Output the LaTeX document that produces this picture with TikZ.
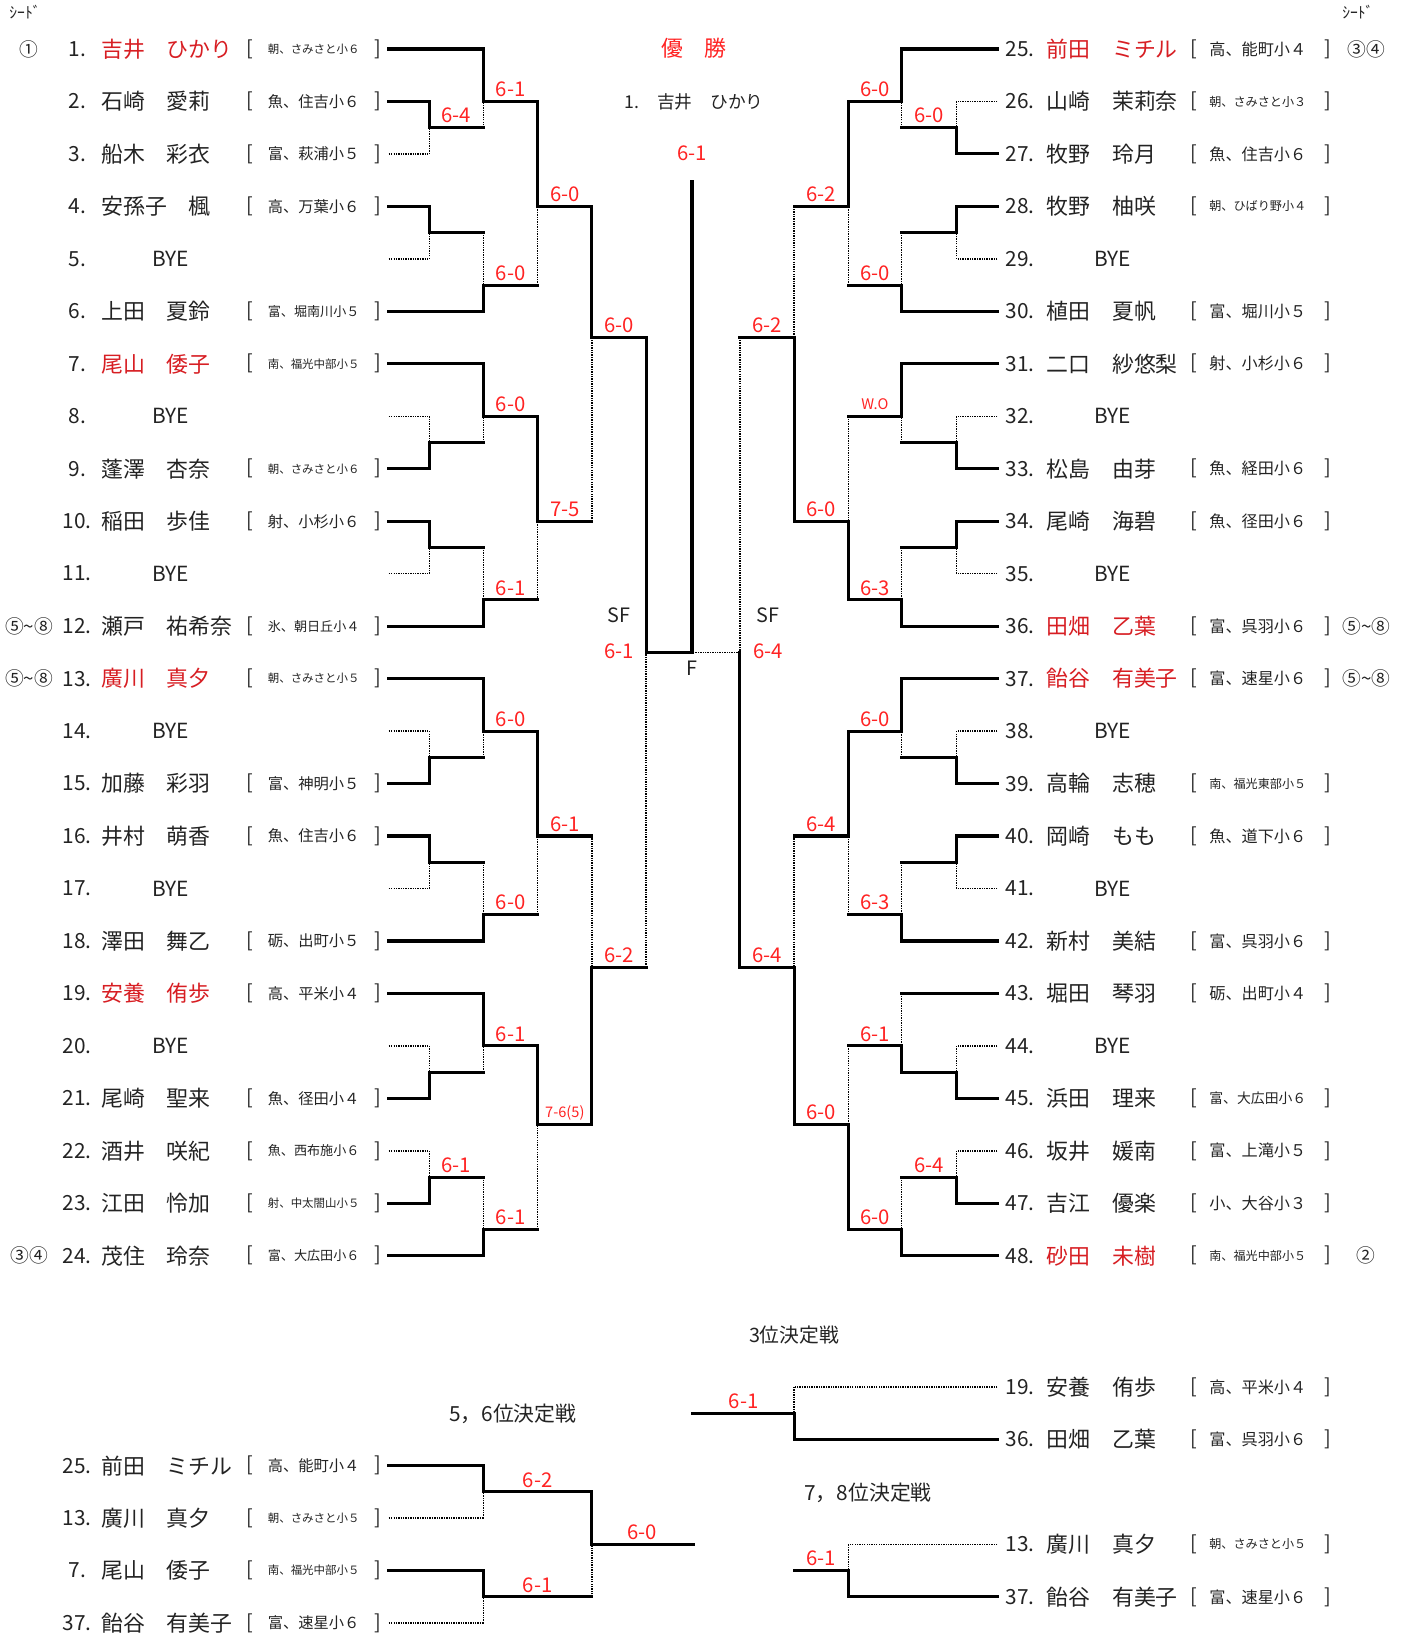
\documentclass[tikz,border=0pt]{standalone}
\usepackage{fontspec}
\setmainfont{Noto Sans CJK JP}
\definecolor{ink}{RGB}{35,35,35}
\definecolor{namered}{RGB}{215,30,35}
\definecolor{scorered}{RGB}{255,35,35}
\newcommand{\smallsc}{\fontsize{14}{16}\selectfont}
\newcommand{\affL}[1]{\resizebox{88pt}{!}{\fontsize{14}{16}\selectfont #1}}
\newcommand{\affR}[1]{\resizebox{93pt}{!}{\fontsize{14}{16}\selectfont #1}}
\tikzset{
  win/.style={line width=3pt, line cap=rect},
  lose/.style={line width=1.3pt, dash pattern=on 1.3pt off 1pt},
  num/.style={inner sep=0pt, text=ink, font=\fontsize{20}{22}\selectfont},
  player/.style={inner sep=0pt, font=\fontsize{21}{23}\selectfont},
  brk/.style={inner sep=0pt, text=ink, font=\fontsize{19}{21}\selectfont},
  aff/.style={inner sep=0pt, text=ink},
  score/.style={inner sep=0pt, text=scorered, font=\fontsize{19.5}{21}\selectfont},
  seed/.style={inner sep=0pt, text=ink, font=\fontsize{18}{20}\selectfont},
  heading/.style={inner sep=0pt, text=ink, font=\fontsize{19}{21}\selectfont}
}

\begin{document}
\begin{tikzpicture}[x=1pt,y=-50.35pt]
  \useasboundingbox (0,0.0665) rectangle (1345,31.208);
  \foreach \y/\xe/\st in {
    1/464/win, 2/412/win, 3/412/lose, 4/412/win, 5/412/lose, 6/464/win,
    7/464/win, 8/412/lose, 9/412/win, 10/412/win, 11/412/lose, 12/464/win,
    13/464/win, 14/412/lose, 15/412/win, 16/412/win, 17/412/lose, 18/464/win,
    19/464/win, 20/412/lose, 21/412/win, 22/412/lose, 23/412/win, 24/464/win,
    28/464/win, 29/464/lose, 30/464/win, 31/464/lose%
  }{
    \draw[\st] (373,\y) -- (\xe,\y);
  }
  \foreach \y/\xe/\st in {
    1/865/win, 2/918/lose, 3/918/win, 4/918/win, 5/918/lose, 6/865/win,
    7/865/win, 8/918/lose, 9/918/win, 10/918/win, 11/918/lose, 12/865/win,
    13/865/win, 14/918/lose, 15/918/win, 16/918/win, 17/918/lose, 18/865/win,
    19/865/win, 20/918/lose, 21/918/win, 22/918/lose, 23/918/win, 24/865/win,
    26.5/762/lose, 27.5/762/win, 29.5/814/lose, 30.5/814/win%
  }{
    \draw[\st] (957,\y) -- (\xe,\y);
  }
  \foreach \x/\xn/\ya/\sta/\yb/\stb/\yj/\sto/\res [count=\k] in {
    412/464/2/win/3/lose/2.5/win/6-4,
    412/464/4/win/5/lose/4.5/win/{},
    412/464/8/lose/9/win/8.5/win/{},
    412/464/10/win/11/lose/10.5/win/{},
    412/464/14/lose/15/win/14.5/win/{},
    412/464/16/win/17/lose/16.5/win/{},
    412/464/20/lose/21/win/20.5/win/{},
    412/464/22/lose/23/win/22.5/win/6-1,
    464/516/1/win/2.5/lose/2/win/6-1,
    464/516/4.5/lose/6/win/5.5/win/6-0,
    464/516/7/win/8.5/lose/8/win/6-0,
    464/516/10.5/lose/12/win/11.5/win/6-1,
    464/516/13/win/14.5/lose/14/win/6-0,
    464/516/16.5/lose/18/win/17.5/win/6-0,
    464/516/19/win/20.5/lose/20/win/6-1,
    464/516/22.5/lose/24/win/23.5/win/6-1,
    516/568/2/win/5.5/lose/4/win/6-0,
    516/568/8/win/11.5/lose/10/win/7-5,
    516/568/14/win/17.5/lose/16/win/6-1,
    516/568/20/win/23.5/lose/21.5/win/{\smallsc 7-6(5)},
    568/620/4/win/10/lose/6.5/win/6-0,
    568/620/16/lose/21.5/win/18.5/win/6-2,
    620/664/6.5/win/18.5/lose/12.5/win/{},
    710/664/6.5/lose/18.5/win/12.5/lose/{},
    762/710/4/lose/10/win/6.5/win/6-2,
    762/710/16/lose/21.5/win/18.5/win/6-4,
    814/762/2/win/5.5/lose/4/win/6-2,
    814/762/8/lose/11.5/win/10/win/6-0,
    814/762/14/win/17.5/lose/16/win/6-4,
    814/762/20/lose/23.5/win/21.5/win/6-0,
    865/814/1/win/2.5/lose/2/win/6-0,
    865/814/4.5/lose/6/win/5.5/win/6-0,
    865/814/7/win/8.5/lose/8/win/{\smallsc W.O},
    865/814/10.5/lose/12/win/11.5/win/6-3,
    865/814/13/win/14.5/lose/14/win/6-0,
    865/814/16.5/lose/18/win/17.5/win/6-3,
    865/814/19/lose/20.5/win/20/win/6-1,
    865/814/22.5/lose/24/win/23.5/win/6-0,
    918/865/2/lose/3/win/2.5/win/6-0,
    918/865/4/win/5/lose/4.5/win/{},
    918/865/8/lose/9/win/8.5/win/{},
    918/865/10/win/11/lose/10.5/win/{},
    918/865/14/lose/15/win/14.5/win/{},
    918/865/16/win/17/lose/16.5/win/{},
    918/865/20/lose/21/win/20.5/win/{},
    918/865/22/lose/23/win/22.5/win/6-4,
    762/665/26.5/lose/27.5/win/27/win/6-1,
    464/568/28/win/29/lose/28.5/win/6-2,
    464/568/30/win/31/lose/30.5/win/6-1,
    568/665/28.5/win/30.5/lose/29.5/win/6-0,
    814/762/29.5/lose/30.5/win/30/win/6-1%
  }{
    \draw[\sta] (\x,\ya) -- (\x,\yj);
    \draw[\stb] (\x,\yb) -- (\x,\yj);
    \draw[\sto] (\x,\yj) -- (\xn,\yj);
    \node[score] (res\k) at ({(\x+\xn)/2},{\yj-0.23}) {\res};
  }
  \draw[win] (664,12.5) -- (664,3.52);
  \foreach \y/\nr/\nm/\af/\col [count=\i] in {
    1/1/吉井　ひかり/朝、さみさと小６/namered,
    2/2/石崎　愛莉/魚、住吉小６/ink,
    3/3/船木　彩衣/富、萩浦小５/ink,
    4/4/安孫子　楓/高、万葉小６/ink,
    6/6/上田　夏鈴/富、堀南川小５/ink,
    7/7/尾山　倭子/南、福光中部小５/namered,
    9/9/蓬澤　杏奈/朝、さみさと小６/ink,
    10/10/稲田　歩佳/射、小杉小６/ink,
    12/12/瀬戸　祐希奈/氷、朝日丘小４/ink,
    13/13/廣川　真夕/朝、さみさと小５/namered,
    15/15/加藤　彩羽/富、神明小５/ink,
    16/16/井村　萌香/魚、住吉小６/ink,
    18/18/澤田　舞乙/砺、出町小５/ink,
    19/19/安養　侑歩/高、平米小４/namered,
    21/21/尾崎　聖来/魚、径田小４/ink,
    22/22/酒井　咲紀/魚、西布施小６/ink,
    23/23/江田　怜加/射、中太閤山小５/ink,
    24/24/茂住　玲奈/富、大広田小６/ink,
    28/25/前田　ミチル/高、能町小４/ink,
    29/13/廣川　真夕/朝、さみさと小５/ink,
    30/7/尾山　倭子/南、福光中部小５/ink,
    31/37/飴谷　有美子/富、速星小６/ink%
  }{
    \pgfmathsetmacro{\nx}{\nr<10 ? 66 : 60}
    \node[num, anchor=west] (lnum\i) at (\nx,\y) {\nr.};
    \node[player, text=\col, anchor=west] (lname\i) at (97,\y) {\nm};
    \node[brk] (lopen\i) at (240,\y) {[};
    \node[aff] (laff\i) at (301,\y) {\affL{\af}};
    \node[brk] (lclose\i) at (363,\y) {]};
  }
  \foreach \y/\nr/\nm/\af/\col [count=\i] in {
    1/25/前田　ミチル/高、能町小４/namered,
    2/26/山崎　茉莉奈/朝、さみさと小３/ink,
    3/27/牧野　玲月/魚、住吉小６/ink,
    4/28/牧野　柚咲/朝、ひばり野小４/ink,
    6/30/植田　夏帆/富、堀川小５/ink,
    7/31/二口　紗悠梨/射、小杉小６/ink,
    9/33/松島　由芽/魚、経田小６/ink,
    10/34/尾崎　海碧/魚、径田小６/ink,
    12/36/田畑　乙葉/富、呉羽小６/namered,
    13/37/飴谷　有美子/富、速星小６/namered,
    15/39/高輪　志穂/南、福光東部小５/ink,
    16/40/岡崎　もも/魚、道下小６/ink,
    18/42/新村　美結/富、呉羽小６/ink,
    19/43/堀田　琴羽/砺、出町小４/ink,
    21/45/浜田　理来/富、大広田小６/ink,
    22/46/坂井　媛南/富、上滝小５/ink,
    23/47/吉江　優楽/小、大谷小３/ink,
    24/48/砂田　未樹/南、福光中部小５/namered,
    26.5/19/安養　侑歩/高、平米小４/ink,
    27.5/36/田畑　乙葉/富、呉羽小６/ink,
    29.5/13/廣川　真夕/朝、さみさと小５/ink,
    30.5/37/飴谷　有美子/富、速星小６/ink%
  }{
    \node[num, anchor=west] (rnum\i) at (965,\y) {\nr.};
    \node[player, text=\col, anchor=west] (rname\i) at (1004,\y) {\nm};
    \node[brk] (ropen\i) at (1146,\y) {[};
    \node[aff] (raff\i) at (1207,\y) {\affR{\af}};
    \node[brk] (rclose\i) at (1274,\y) {]};
  }
  \foreach \y [count=\i] in {5,8,11,14,17,20}{
    \pgfmathsetmacro{\nx}{\y<10 ? 66 : 60}
    \pgfmathtruncatemacro{\nr}{\y+24}
    \node[num, anchor=west] (lbnum\i) at (\nx,\y) {\y.};
    \node[num, anchor=west] (lbye\i) at (146,\y) {BYE};
    \node[num, anchor=west] (rbnum\i) at (965,\y) {\nr.};
    \node[num, anchor=west] (rbye\i) at (1050,\y) {BYE};
  }
  \foreach \x/\y/\sd [count=\i] in {
    28/1/①, 28/12/⑤\textasciitilde⑧, 28/13/⑤\textasciitilde⑧, 28/24/③④,
    1311/1/③④, 1311/12/⑤\textasciitilde⑧, 1311/13/⑤\textasciitilde⑧, 1311/24/②%
  }{
    \node[seed] (seed\i) at (\x,\y) {\sd};
  }
  \node[seed, font=\fontsize{15}{17}\selectfont] (seedhL) at (24,0.305) {ｼｰﾄﾞ};
  \node[seed, font=\fontsize{15}{17}\selectfont] (seedhR) at (1303,0.305) {ｼｰﾄﾞ};
  \node[score, font=\fontsize{21}{23}\selectfont] (champ) at (666,0.98) {優　勝};
  \node[heading, font=\fontsize{17}{19}\selectfont] (champname) at (666,2) {1.　吉井　ひかり};
  \node[score] (finalres) at (664,2.99) {6-1};
  \node[heading] (sfL) at (594,11.8) {SF};
  \node[score] (sfLres) at (594,12.48) {6-1};
  \node[heading] (sfR) at (737,11.8) {SF};
  \node[score] (sfRres) at (737,12.48) {6-4};
  \node[heading] (fin) at (664,12.8) {F};
  \node[heading] (third) at (762,25.51) {3位決定戦};
  \node[heading, font=\fontsize{20}{22}\selectfont] (fifth) at (492,27.02) {5，6位決定戦};
  \node[heading, font=\fontsize{20}{22}\selectfont] (seventh) at (833,28.51) {7，8位決定戦};
\end{tikzpicture}
\end{document}
